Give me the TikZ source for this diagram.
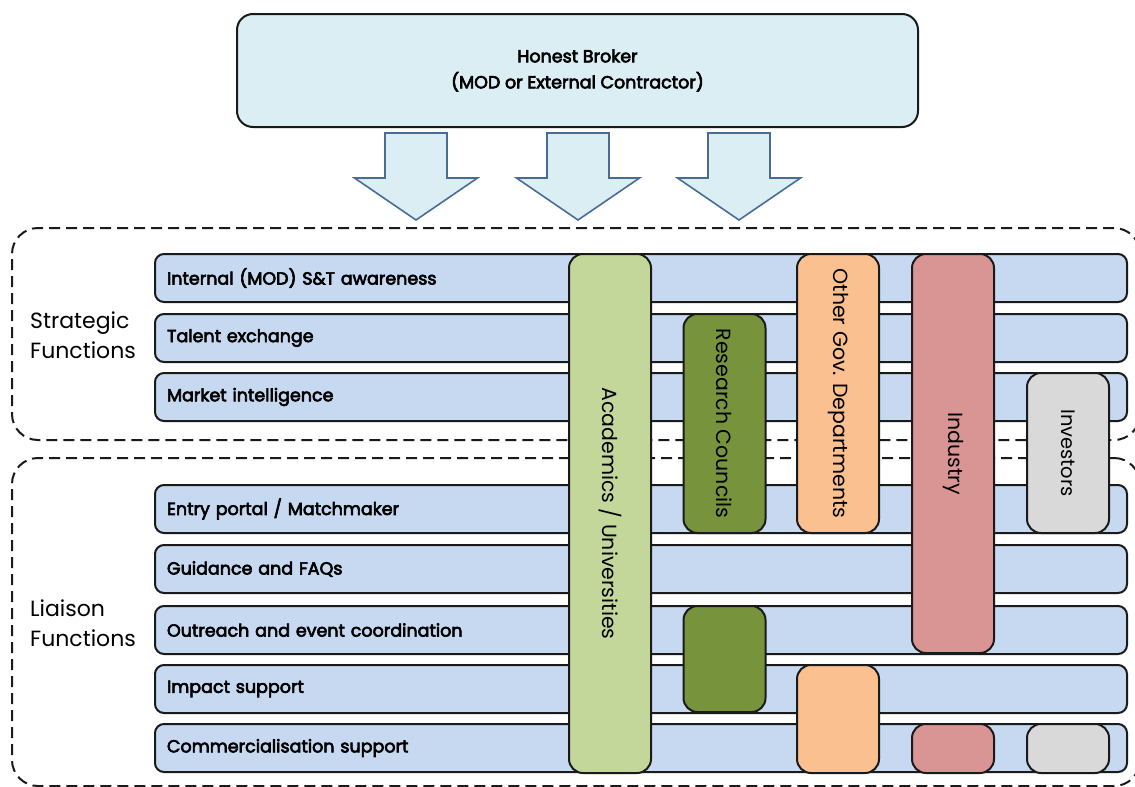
\documentclass[tikz,border=0pt]{standalone}
\usepackage{fontspec}
\setmainfont{Poppins}
\newfontfamily\medfont[FakeBold=3.5]{Poppins}

\definecolor{brokerfill}{HTML}{DBEEF4}
\definecolor{arrowline}{HTML}{4A6C94}
\definecolor{barfill}{HTML}{C6D9F1}
\definecolor{edge}{HTML}{1A1A1A}
\definecolor{acadfill}{HTML}{C4D79B}
\definecolor{rcfill}{HTML}{77933C}
\definecolor{govfill}{HTML}{FAC090}
\definecolor{indfill}{HTML}{D99594}
\definecolor{invfill}{HTML}{D9D9D9}

\tikzset{
  broker/.style={draw=edge, line width=2pt, fill=brokerfill, rounded corners=16pt,
    minimum width=681pt, minimum height=113pt, inner sep=0pt, align=center,
    font=\medfont\fontsize{17.5}{26}\selectfont},
  downarrow/.style={draw=arrowline, line width=1.6pt, fill=brokerfill, line join=miter},
  group/.style={draw=edge, line width=2pt, dash pattern=on 11pt off 6pt,
    rounded corners=26pt, inner sep=0pt},
  grouplabel/.style={anchor=west, align=left, inner sep=0pt,
    font=\fontsize{22}{30}\selectfont},
  bar/.style={draw=edge, line width=2pt, fill=barfill, rounded corners=9pt,
    minimum width=972pt, minimum height=48pt, text width=948pt, inner xsep=12pt,
    align=left, font=\medfont\fontsize{17.5}{18}\selectfont},
  col/.style={draw=edge, line width=2pt, rounded corners=14pt, inner sep=0pt,
    font=\fontsize{20.5}{22}\selectfont},
}

\begin{document}
\begin{tikzpicture}[x=1pt, y=-1pt]
\useasboundingbox (0,0) rectangle (1135,787);

% functional groups (dashed frames)
\node[group, minimum width=1128pt, minimum height=212pt] (strategic) at (576,334) {};
\node[group, minimum width=1128pt, minimum height=328pt] (liaison) at (576,622) {};
\node[grouplabel] (strategiclbl) at (30,335) {Strategic\\Functions};
\node[grouplabel] (liaisonlbl) at (30,623) {Liaison\\Functions};

% top-level body and its three block arrows
\node[broker] (broker) at (577.5,70.5) {\raisebox{-3pt}{Honest Broker}\\\raisebox{-3pt}{(MOD or External Contractor)}};
\foreach \cx/\nm in {416/a1, 578/a2, 739/a3} {
  \coordinate (\nm) at (\cx,220);
  \draw[downarrow] (\cx-31,133) -- (\cx+31,133) -- (\cx+31,178) -- (\cx+61.5,178)
    -- (\nm) -- (\cx-61.5,178) -- (\cx-31,178) -- cycle;
}

% function rows
\node[bar] (r1) at (641,278) {Internal (MOD) S\&T awareness};
\node[bar] (r2) at (641,338) {Talent exchange};
\node[bar] (r3) at (641,397) {Market intelligence};
\node[bar] (r4) at (641,509) {Entry portal / Matchmaker};
\node[bar] (r5) at (641,569) {Guidance and FAQs};
\node[bar] (r6) at (641,630) {Outreach and event coordination};
\node[bar] (r7) at (641,689) {Impact support};
\node[bar] (r8) at (641,748) {Commercialisation support};

% stakeholder columns
\node[col, fill=acadfill, rotate=-90, minimum width=519pt, minimum height=82pt] (acad) at (610,513.5) {Academics / Universities};
\node[col, fill=rcfill, rotate=-90, minimum width=219pt, minimum height=82pt] (rc) at (724.5,423.5) {Research Councils};
\node[col, fill=rcfill, minimum width=82pt, minimum height=106pt] (rc2) at (724.5,659) {};
\node[col, fill=govfill, rotate=-90, minimum width=279pt, minimum height=82pt] (gov) at (838,393.5) {Other Gov. Departments};
\node[col, fill=govfill, minimum width=82pt, minimum height=108pt] (gov2) at (838,719) {};
\node[col, fill=indfill, rotate=-90, minimum width=399pt, minimum height=82pt] (ind) at (953,453.5) {Industry};
\node[col, fill=indfill, minimum width=82pt, minimum height=49pt] (ind2) at (953,748.5) {};
\node[col, fill=invfill, rotate=-90, minimum width=160pt, minimum height=82pt, font=\fontsize{19.5}{20}\selectfont] (inv) at (1068,453) {Investors};
\node[col, fill=invfill, minimum width=82pt, minimum height=49pt] (inv2) at (1068,748.5) {};
\end{tikzpicture}
\end{document}
